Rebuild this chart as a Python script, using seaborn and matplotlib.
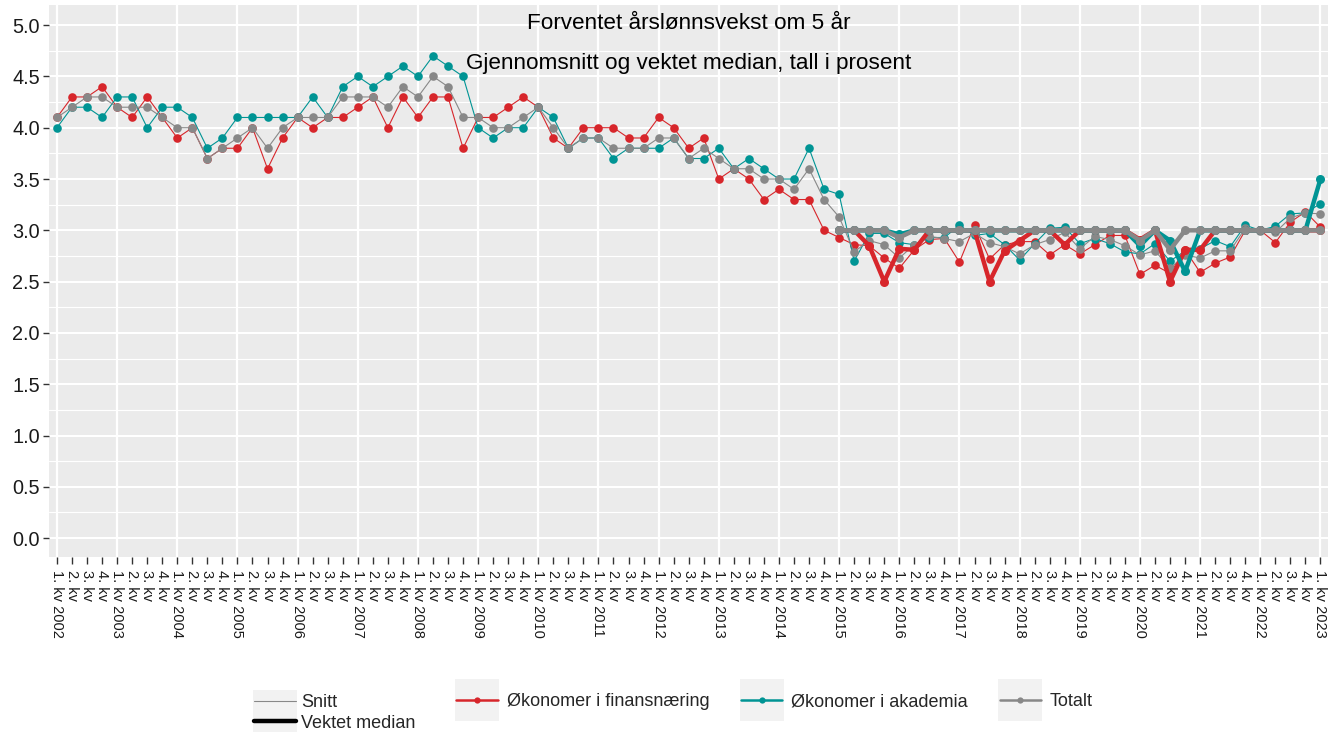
import numpy as np
import pandas as pd
import matplotlib
matplotlib.use("Agg")
import matplotlib.pyplot as plt
from matplotlib.lines import Line2D
from matplotlib.patches import Rectangle
from matplotlib.transforms import IdentityTransform
from matplotlib.ticker import MultipleLocator
import seaborn as sns

# quarters from 1. kv 2002 to 1. kv 2023
years = list(range(2002, 2023))
quarter_labels = []
for yr in years:
    quarter_labels += [f"1. kv {yr}", "2. kv", "3. kv", "4. kv"]
quarter_labels.append("1. kv 2023")

# average (snitt)
finans_snitt = [4.1, 4.3, 4.3, 4.4, 4.2, 4.1, 4.3, 4.1, 3.9, 4.0,
                3.7, 3.8, 3.8, 4.0, 3.6, 3.9, 4.1, 4.0, 4.1, 4.1,
                4.2, 4.3, 4.0, 4.3, 4.1, 4.3, 4.3, 3.8, 4.1, 4.1,
                4.2, 4.3, 4.2, 3.9, 3.8, 4.0, 4.0, 4.0, 3.9, 3.9,
                4.1, 4.0, 3.8, 3.9, 3.5, 3.6, 3.5, 3.3, 3.4, 3.3,
                3.3, 3.0, 2.93, 2.86, 2.85, 2.73, 2.63, 2.81, 2.91, 2.92,
                2.69, 3.05, 2.72, 2.86, 2.89, 2.89, 2.76, 2.86, 2.77, 2.86,
                2.95, 2.95, 2.57, 2.66, 2.58, 2.81, 2.59, 2.68, 2.74, 3.0,
                3.0, 2.88, 3.08, 3.18, 3.03]
akademia_snitt = [4.0, 4.2, 4.2, 4.1, 4.3, 4.3, 4.0, 4.2, 4.2, 4.1,
                  3.8, 3.9, 4.1, 4.1, 4.1, 4.1, 4.1, 4.3, 4.1, 4.4,
                  4.5, 4.4, 4.5, 4.6, 4.5, 4.7, 4.6, 4.5, 4.0, 3.9,
                  4.0, 4.0, 4.2, 4.1, 3.8, 3.9, 3.9, 3.7, 3.8, 3.8,
                  3.8, 3.9, 3.7, 3.7, 3.8, 3.6, 3.7, 3.6, 3.5, 3.5,
                  3.8, 3.4, 3.35, 2.70, 2.97, 2.97, 2.88, 2.86, 2.93, 2.93,
                  3.05, 2.95, 2.97, 2.86, 2.71, 2.87, 3.02, 3.03, 2.87, 2.92,
                  2.87, 2.79, 2.77, 2.87, 2.70, 2.80, 2.82, 2.90, 2.84, 3.05,
                  3.0, 3.04, 3.16, 3.17, 3.26]
totalt_snitt = [4.1, 4.2, 4.3, 4.3, 4.2, 4.2, 4.2, 4.1, 4.0, 4.0,
                3.7, 3.8, 3.9, 4.0, 3.8, 4.0, 4.1, 4.1, 4.1, 4.3,
                4.3, 4.3, 4.2, 4.4, 4.3, 4.5, 4.4, 4.1, 4.1, 4.0,
                4.0, 4.1, 4.2, 4.0, 3.8, 3.9, 3.9, 3.8, 3.8, 3.8,
                3.9, 3.9, 3.7, 3.8, 3.7, 3.6, 3.6, 3.5, 3.5, 3.4,
                3.6, 3.3, 3.13, 2.79, 2.90, 2.86, 2.73, 2.86, 2.94, 2.92,
                2.89, 2.97, 2.88, 2.84, 2.77, 2.86, 2.91, 2.98, 2.82, 2.94,
                2.91, 2.85, 2.76, 2.80, 2.63, 2.76, 2.73, 2.80, 2.80, 3.02,
                2.99, 2.98, 3.12, 3.17, 3.16]

# weighted median (vektet median), from 1. kv 2015
median_start = 52
finans_median = [3.0, 3.0, 2.85, 2.5, 2.82, 2.81, 3.0, 3.0, 3.0, 3.0,
                 2.5, 2.8, 2.9, 3.0, 3.0, 2.86, 3.0, 3.0, 3.0, 3.0,
                 2.91, 3.0, 2.5, 2.81, 2.81, 3.0, 3.0, 3.0, 3.0, 3.0,
                 3.0, 3.0, 3.0]
akademia_median = [3.0, 3.0, 3.0, 3.0, 2.96, 3.0, 3.0, 3.0, 3.0, 3.0,
                   3.0, 3.0, 3.0, 3.0, 3.0, 3.0, 3.0, 3.0, 3.0, 3.0,
                   2.85, 3.0, 2.9, 2.6, 3.0, 3.0, 3.0, 3.0, 3.0, 3.0,
                   3.0, 3.0, 3.5]
totalt_median = [3.0, 3.0, 3.0, 3.0, 2.93, 3.0, 3.0, 3.0, 3.0, 3.0,
                 3.0, 3.0, 3.0, 3.0, 3.0, 3.0, 3.0, 3.0, 3.0, 3.0,
                 2.9, 3.0, 2.81, 3.0, 3.0, 3.0, 3.0, 3.0, 3.0, 3.0,
                 3.0, 3.0, 3.0]

group_names = ["Økonomer i finansnæring", "Økonomer i akademia", "Totalt"]
group_colors = ["#D7262B", "#009494", "#888888"]

sns.set_theme(style="darkgrid")
plt.rcParams["font.family"] = ["Liberation Sans", "DejaVu Sans"]

x_all = np.arange(len(quarter_labels))
x_med = x_all[median_start:]

fig, ax = plt.subplots(figsize=(13.36, 7.33), dpi=100)
fig.subplots_adjust(left=0.037, right=0.994, top=0.993, bottom=0.240)
ax.set_facecolor("#EBEBEB")

# thin lines: snitt
for vals, col in zip([finans_snitt, akademia_snitt, totalt_snitt], group_colors):
    sns.lineplot(x=x_all, y=vals, color=col, linewidth=0.8, marker="o",
                 markersize=6.2, markeredgewidth=0, ax=ax)

# thick lines: vektet median
for vals, col in zip([finans_median, akademia_median, totalt_median], group_colors):
    sns.lineplot(x=x_med, y=vals, color=col, linewidth=3.2, marker="o",
                 markersize=6.5, markeredgewidth=0, ax=ax)

ax.set_xlim(-0.5, len(quarter_labels) - 0.5)
ax.set_ylim(-0.185, 5.195)
ax.set_xlabel("")
ax.set_ylabel("")

# y axis
ax.yaxis.set_minor_locator(MultipleLocator(0.25))
ax.set_yticks(np.arange(0, 5.01, 0.5))
ax.set_yticklabels([f"{v:.1f}" for v in np.arange(0, 5.01, 0.5)])

# x axis: year starts as major (with grid), other quarters as minor
q1 = x_all[::4]
other = [i for i in x_all if i % 4 != 0]
ax.set_xticks(q1, labels=[quarter_labels[i] for i in q1])
ax.set_xticks(other, labels=[quarter_labels[i] for i in other], minor=True)

ax.grid(False)
ax.grid(which="major", axis="y", color="white", linewidth=1.5)
ax.grid(which="minor", axis="y", color="white", linewidth=0.8)
ax.grid(which="major", axis="x", color="white", linewidth=1.6)
ax.set_axisbelow(True)
for s in ax.spines.values():
    s.set_visible(False)

ax.tick_params(axis="y", which="major", labelsize=14.3, length=4, width=1,
               color="#333333", labelcolor="#1a1a1a", left=True, pad=3)
ax.tick_params(axis="y", which="minor", left=False)
ax.tick_params(axis="x", which="both", labelsize=10.5, length=5, width=1,
               color="#333333", labelcolor="#1a1a1a", bottom=True,
               labelrotation=270, pad=4)

ax.text(0.5, 0.967, "Forventet årslønnsvekst om 5 år", transform=ax.transAxes,
        ha="center", va="center", fontsize=16.2, color="black")
ax.text(0.5, 0.895, "Gjennomsnitt og vektet median, tall i prosent",
        transform=ax.transAxes, ha="center", va="center", fontsize=16.2,
        color="black")

# legends
type_handles = [Line2D([], [], color="#888888", linewidth=0.8),
                Line2D([], [], color="black", linewidth=3.2)]
leg1 = fig.legend(type_handles, ["Snitt", "Vektet median"], loc="center left",
                  bbox_to_anchor=(254 / 1336, 1 - 713 / 733), frameon=False,
                  fontsize=13, handlelength=2.3, handletextpad=0.3,
                  labelspacing=0.2, borderpad=0, borderaxespad=0)
group_handles = [Line2D([], [], color=c, linewidth=1.8, marker="o",
                        markersize=4.5, markeredgewidth=0) for c in group_colors]
leg2 = fig.legend(group_handles, group_names, loc="center left",
                  bbox_to_anchor=(456 / 1336, 1 - 702 / 733), ncol=3,
                  frameon=False, fontsize=13, handlelength=2.3,
                  handletextpad=0.5, columnspacing=1.75, borderpad=0,
                  borderaxespad=0)

# grey key backgrounds like the original
fig.canvas.draw()
renderer = fig.canvas.get_renderer()
bbs = [h.get_window_extent(renderer) for h in leg1.legend_handles]
cx = (bbs[0].x0 + bbs[0].x1) / 2
cy = (bbs[0].y0 + bbs[1].y1) / 2
fig.add_artist(Rectangle((cx - 22, cy - 21), 44, 42, transform=IdentityTransform(),
                         facecolor="#F2F2F2", edgecolor="none", zorder=0))
for h in leg2.legend_handles:
    bb = h.get_window_extent(renderer)
    cx = (bb.x0 + bb.x1) / 2
    cy = (bb.y0 + bb.y1) / 2
    fig.add_artist(Rectangle((cx - 22, cy - 21), 44, 42, transform=IdentityTransform(),
                             facecolor="#F2F2F2", edgecolor="none", zorder=0))

fig.savefig("out.png", dpi=100)
